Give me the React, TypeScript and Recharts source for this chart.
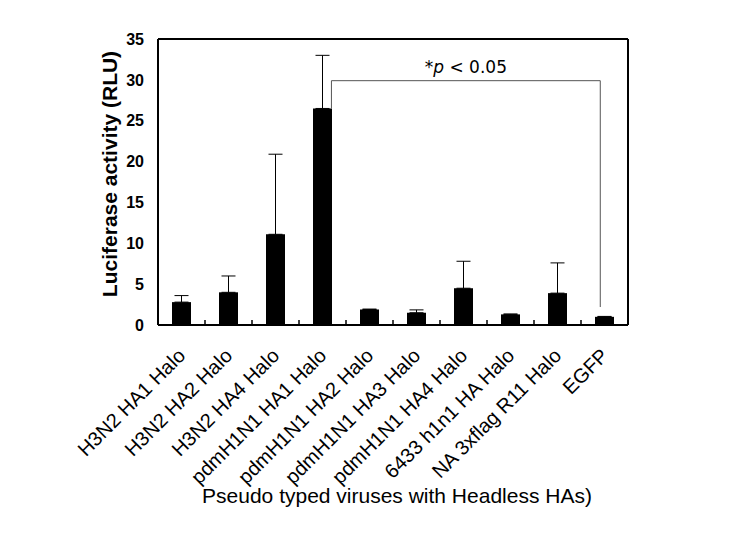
import { BarChart, Bar, XAxis, YAxis, ErrorBar, ReferenceLine, Label } from 'recharts';

const categories = [
  'H3N2 HA1 Halo', 'H3N2 HA2 Halo', 'H3N2 HA4 Halo', 'pdmH1N1 HA1 Halo', 'pdmH1N1 HA2 Halo',
  'pdmH1N1 HA3 Halo', 'pdmH1N1 HA4 Halo', '6433 h1n1 HA Halo', 'NA 3xflag R11 Halo', 'EGFP',
];
const luciferase = [2.8, 4.0, 11.1, 26.5, 1.9, 1.5, 4.5, 1.3, 3.9, 1.0];
const upperError = [0.8, 2.0, 9.8, 6.5, 0.05, 0.35, 3.3, 0.05, 3.7, 0.05];
const yTicks = [0, 5, 10, 15, 20, 25, 30, 35];
// tick marks between groups, on a 0..10 index scale
const groupBounds = [1, 2, 3, 4, 5, 6, 7, 8, 9];
// significance bracket: pdmH1N1 HA1 vs EGFP (index units / RLU)
const bracketLeft = 3.69;
const bracketRight = 9.41;
const bracketTop = 29.9;
const bracketLeftFoot = 26.5;
const bracketRightFoot = 2.2;

const rows = categories.map((name, i) => ({
  name,
  pos: i + 0.5,
  rlu: luciferase[i],
  err: [0, upperError[i]],
}));

const ARIAL = '"Liberation Sans", Arial, sans-serif';

function CategoryTick(props: any) {
  const { x, y, payload } = props;
  const tx = x + 5;
  const ty = y + 32;
  return (
    <text
      x={tx}
      y={ty}
      transform={`rotate(-45, ${tx}, ${ty})`}
      textAnchor="end"
      fontSize={20}
      fontFamily={ARIAL}
      fill="#000"
    >
      {payload.value}
    </text>
  );
}

function PValueLabel(props: any) {
  const vb = props.viewBox ?? {};
  const cx = (vb.x ?? 0) + (vb.width ?? 0) / 2;
  const y = (vb.y ?? 0) - 8;
  return (
    <text x={cx} y={y} textAnchor="middle" fontSize={17} fontFamily='"DejaVu Sans", sans-serif' fill="#000">
      *<tspan fontStyle="italic">p</tspan> {'<'} 0.05
    </text>
  );
}

export default function App() {
  return (
    <div style={{ position: 'absolute', left: 0, top: 0, width: 737, height: 543, background: '#fff' }}>
      <BarChart
        width={737}
        height={543}
        data={rows}
        margin={{ top: 39, right: 109, left: 0, bottom: 0 }}
        barCategoryGap={0}
        style={{ fontFamily: ARIAL }}
      >
        <XAxis
          dataKey="name"
          height={218}
          interval={0}
          tickLine={false}
          tickSize={0}
          tickMargin={0}
          tick={<CategoryTick />}
          axisLine={{ stroke: '#000', strokeWidth: 2 }}
        >
          <Label
            content={() => (
              <text x={397} y={503} textAnchor="middle" fontSize={21} fontFamily={ARIAL} fill="#000">
                Pseudo typed viruses with Headless HAs)
              </text>
            )}
          />
        </XAxis>
        <XAxis
          xAxisId="idx"
          dataKey="pos"
          type="number"
          domain={[0, 10]}
          allowDataOverflow
          hide
        />
        <YAxis
          width={158}
          domain={[0, 35]}
          ticks={yTicks}
          interval={0}
          tickLine={false}
          tickSize={0}
          tickMargin={14}
          tick={{ fill: '#000', fontSize: 16, fontWeight: 'bold', fontFamily: ARIAL }}
          axisLine={{ stroke: '#000', strokeWidth: 2 }}
        >
          <Label
            content={() => (
              <text
                transform="translate(117, 174) rotate(-90)"
                textAnchor="middle"
                fontSize={21}
                fontWeight="bold"
                fontFamily={ARIAL}
                fill="#000"
              >
                Luciferase activity (RLU)
              </text>
            )}
          />
        </YAxis>
        <Bar dataKey="rlu" fill="#000" barSize={19} isAnimationActive={false}>
          <ErrorBar dataKey="err" direction="y" width={7} stroke="#000" strokeWidth={1} isAnimationActive={false} />
        </Bar>
        {/* frame: top and right edges */}
        <ReferenceLine y={35} stroke="#000" strokeWidth={2} ifOverflow="visible" />
        <ReferenceLine xAxisId="idx" x={10} stroke="#000" strokeWidth={2} ifOverflow="visible" />
        {groupBounds.map(b => (
          <ReferenceLine
            key={b}
            xAxisId="idx"
            segment={[{ x: b, y: 0 }, { x: b, y: 0.6 }]}
            stroke="#000"
            strokeWidth={1.5}
            ifOverflow="visible"
          />
        ))}
        <ReferenceLine
          xAxisId="idx"
          segment={[{ x: bracketLeft, y: bracketLeftFoot }, { x: bracketLeft, y: bracketTop }]}
          stroke="#555"
          strokeWidth={1}
          ifOverflow="visible"
        />
        <ReferenceLine
          xAxisId="idx"
          segment={[{ x: bracketLeft, y: bracketTop }, { x: bracketRight, y: bracketTop }]}
          stroke="#555"
          strokeWidth={1}
          ifOverflow="visible"
          label={<PValueLabel />}
        />
        <ReferenceLine
          xAxisId="idx"
          segment={[{ x: bracketRight, y: bracketTop }, { x: bracketRight, y: bracketRightFoot }]}
          stroke="#555"
          strokeWidth={1}
          ifOverflow="visible"
        />
      </BarChart>
    </div>
  );
}
